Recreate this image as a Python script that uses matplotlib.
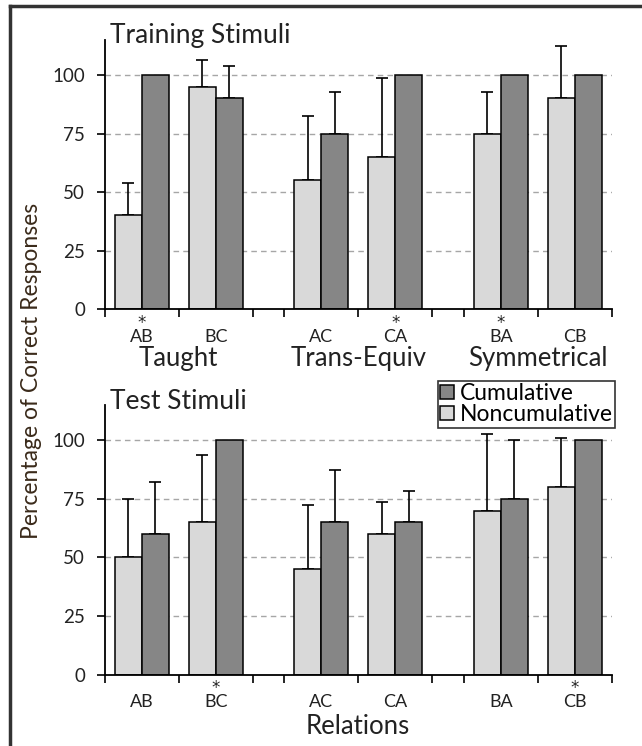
import matplotlib
matplotlib.use("Agg")
import matplotlib.pyplot as plt
import matplotlib.transforms as mtransforms
from matplotlib.lines import Line2D
import numpy as np

plt.rcParams['font.family'] = ['Lato', 'DejaVu Sans']

# ---------------- data ----------------
categories = ["AB", "BC", "AC", "CA", "BA", "CB"]
groups = ["Taught", "Trans-Equiv", "Symmetrical"]
series_names = ["Cumulative", "Noncumulative"]

train_noncum = [40, 95, 55, 65, 75, 90]
train_noncum_err = [13.7, 11.4, 27.3, 33.6, 17.9, 22.6]
train_cum = [100, 90, 75, 100, 100, 100]
train_cum_err = [0, 13.7, 17.9, 0, 0, 0]
train_stars = ["AB", "CA", "BA"]

test_noncum = [50, 65, 45, 60, 70, 80]
test_noncum_err = [25.0, 28.7, 27.3, 13.8, 32.6, 21.0]
test_cum = [60, 100, 65, 65, 75, 100]
test_cum_err = [22.2, 0, 22.4, 13.5, 25.0, 0]
test_stars = ["BC", "CB"]

yticks = [0, 25, 50, 75, 100]

# ---------------- layout ----------------
W, H = 642, 746
def fx(x):
    return x / W
def fy(y):
    return 1 - y / H

LIGHT = "#d9d9d9"
DARK = "#868686"
TXT = "#222222"

gap = 0.42
centers = []
bounds = [0.0]
x = 0.0
for g in range(3):
    for k in range(2):
        centers.append(x + 0.5)
        x += 1
        bounds.append(x)
    if g < 2:
        x += gap
        bounds.append(x)
total = x
centers = np.array(centers)
group_centers = [(centers[2 * g] + centers[2 * g + 1]) / 2 for g in range(3)]

bw = 0.365

fig = plt.figure(figsize=(W / 100, H / 100), dpi=100)

ax_left = fx(104.5)
ax_w = (612 - 104.5) / W
panels = [
    dict(top=40, bottom=309, title="Training Stimuli", non=train_noncum, nerr=train_noncum_err,
         cum=train_cum, cerr=train_cum_err, stars=train_stars,
         star_y=328, lab_y=342, grp_y=366, title_y=43),
    dict(top=405, bottom=674.7, title="Test Stimuli", non=test_noncum, nerr=test_noncum_err,
         cum=test_cum, cerr=test_cum_err, stars=test_stars,
         star_y=693, lab_y=707, grp_y=734, title_y=409),
]

handles = None
for i, p in enumerate(panels):
    ax = fig.add_axes([ax_left, fy(p["bottom"]), ax_w, (p["bottom"] - p["top"]) / H])
    ax.set_xlim(0, total)
    ax.set_ylim(0, 115)
    for yv in yticks[1:]:
        ax.axhline(yv, color="#a6a6a6", lw=1.0, ls=(0, (4, 3)), zorder=0)
    b1 = ax.bar(centers - bw / 2, p["non"], width=bw, color=LIGHT, edgecolor="black", lw=1.1, zorder=2)
    b2 = ax.bar(centers + bw / 2, p["cum"], width=bw, color=DARK, edgecolor="black", lw=1.1, zorder=2)
    handles = (b2, b1)
    nerr = np.array(p["nerr"])
    cerr = np.array(p["cerr"])
    ax.errorbar(centers - bw / 2, p["non"], yerr=[np.zeros_like(nerr), nerr], fmt="none",
                ecolor="black", elinewidth=1.2, capsize=4.5, capthick=1.2, zorder=1)
    mask = cerr > 0
    ax.errorbar((centers + bw / 2)[mask], np.array(p["cum"])[mask],
                yerr=[np.zeros(mask.sum()), cerr[mask]], fmt="none",
                ecolor="black", elinewidth=1.2, capsize=4.5, capthick=1.2, zorder=1)

    for s in ["top", "right"]:
        ax.spines[s].set_visible(False)
    for s in ["left", "bottom"]:
        ax.spines[s].set_linewidth(1.3)
    ax.set_yticks(yticks)
    ax.set_yticklabels([str(v) for v in yticks], fontsize=13.5, color=TXT)
    ax.tick_params(axis="y", direction="out", length=6, width=1.2, pad=8)
    ax.set_xticks(bounds)
    ax.set_xticklabels([])
    ax.tick_params(axis="x", direction="out", length=6, width=1.2)

    tr = mtransforms.blended_transform_factory(ax.transData, fig.transFigure)
    for c, lab in zip(centers, categories):
        ax.text(c, fy(p["lab_y"]), lab, transform=tr, ha="center", va="baseline",
                fontsize=13, color=TXT)
        if lab in p["stars"]:
            ax.text(c, fy(p["star_y"]), "*", transform=tr, ha="center", va="baseline",
                    fontsize=12, color=TXT, family="DejaVu Sans")
    if i == 0:
        for gc, g in zip(group_centers, groups):
            ax.text(gc, fy(p["grp_y"]), g, transform=tr, ha="center", va="baseline",
                    fontsize=18.5, color=TXT)
    else:
        ax.text(total / 2, fy(p["grp_y"]), "Relations", transform=tr, ha="center",
                va="baseline", fontsize=18.5, color=TXT)
    fig.text(fx(110), fy(p["title_y"]), p["title"], ha="left", va="baseline",
             fontsize=19, color=TXT)

fig.text(fx(42), fy(371), "Percentage of Correct Responses", rotation=90,
         ha="right", va="center", fontsize=16.5, color="#3a2a1a")

leg = fig.legend(handles, series_names, loc="upper left",
                 bbox_to_anchor=(fx(438), fy(381)), bbox_transform=fig.transFigure,
                 fontsize=16.5, frameon=True, fancybox=False, edgecolor="black",
                 handlelength=0.6, handleheight=0.6, handletextpad=0.25,
                 labelspacing=0.0, borderpad=0.1, borderaxespad=0)
leg.get_frame().set_linewidth(1.2)

# outer frame
fig.add_artist(Line2D([fx(10), fx(10)], [0, fy(6)], color="#333333", lw=2.5))
fig.add_artist(Line2D([fx(10), 1], [fy(6), fy(6)], color="#333333", lw=2.5))

fig.savefig("out.png", dpi=100)
